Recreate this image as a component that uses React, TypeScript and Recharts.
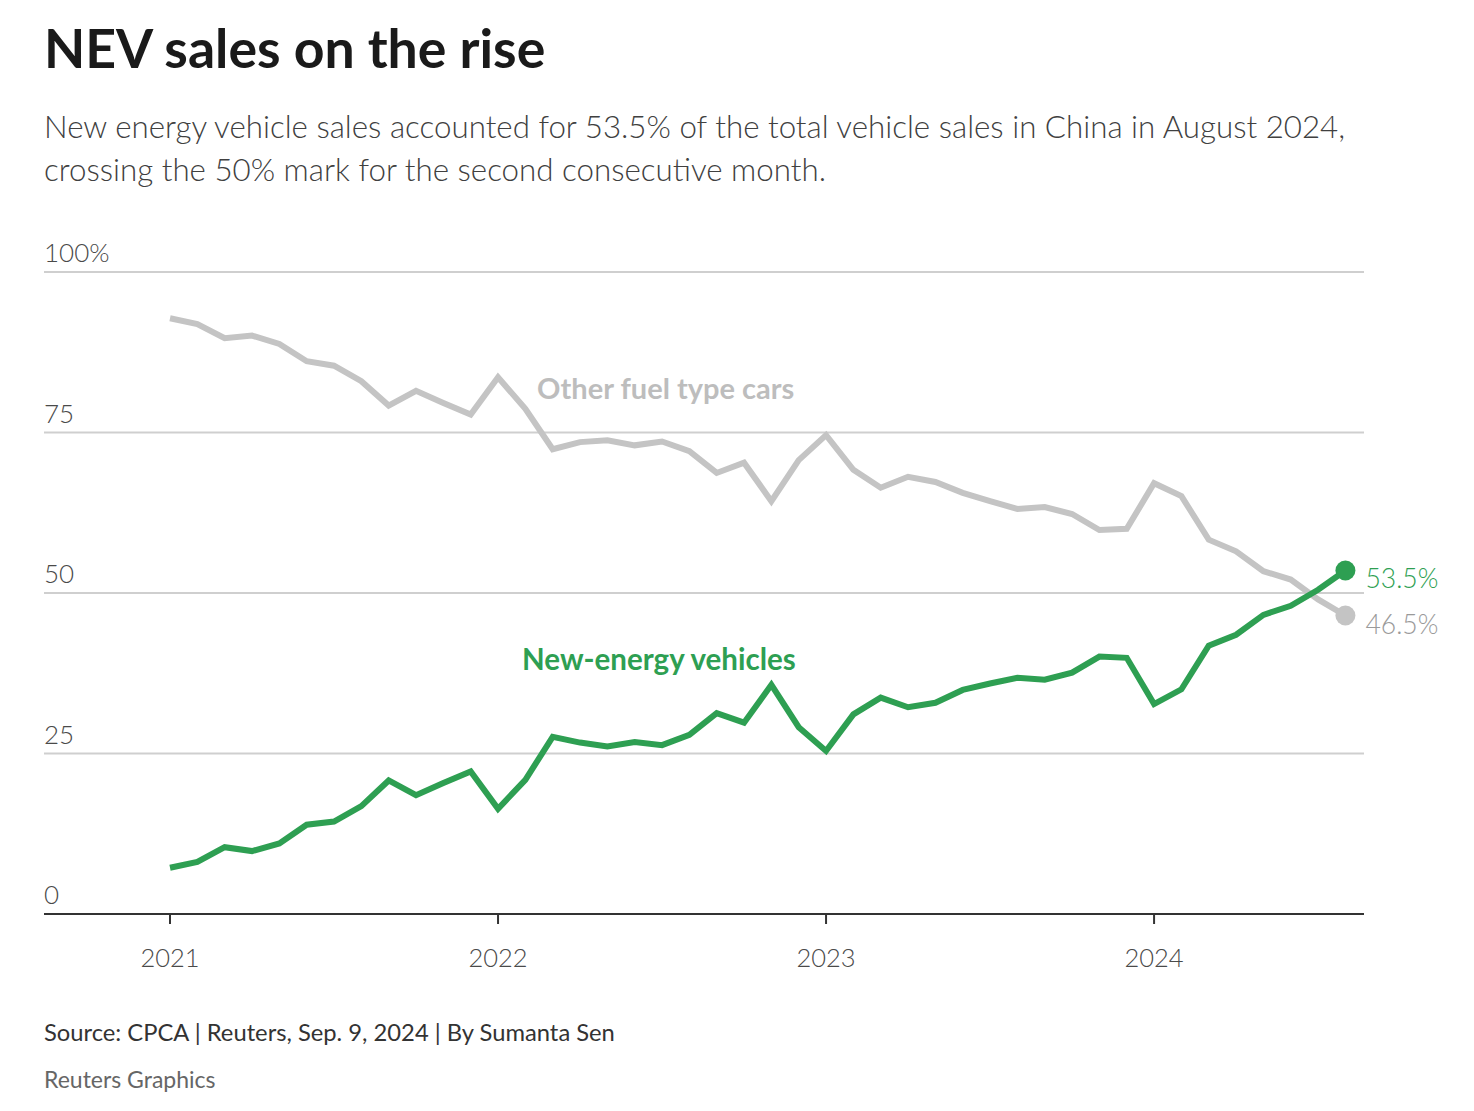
import React from "react";
import {
  LineChart,
  Line,
  XAxis,
  YAxis,
  CartesianGrid,
  ReferenceDot,
  LabelList,
} from "recharts";

// Monthly share of total vehicle sales in China (%), Jan 2021 – Aug 2024
const months = [
  "2021-01", "2021-02", "2021-03", "2021-04", "2021-05", "2021-06",
  "2021-07", "2021-08", "2021-09", "2021-10", "2021-11", "2021-12",
  "2022-01", "2022-02", "2022-03", "2022-04", "2022-05", "2022-06",
  "2022-07", "2022-08", "2022-09", "2022-10", "2022-11", "2022-12",
  "2023-01", "2023-02", "2023-03", "2023-04", "2023-05", "2023-06",
  "2023-07", "2023-08", "2023-09", "2023-10", "2023-11", "2023-12",
  "2024-01", "2024-02", "2024-03", "2024-04", "2024-05", "2024-06",
  "2024-07", "2024-08",
];

const nevShare = [
  7.2, 8.1, 10.4, 9.8, 11.0, 13.9, 14.4, 16.8, 20.8, 18.5, 20.4, 22.2,
  16.4, 20.9, 27.6, 26.7, 26.1, 26.8, 26.3, 27.9, 31.3, 29.8, 35.7, 29.1,
  25.4, 31.1, 33.7, 32.2, 32.9, 34.9, 35.9, 36.8, 36.5, 37.6, 40.1, 39.9,
  32.7, 35.0, 41.8, 43.5, 46.6, 48.0, 50.5, 53.5,
];

const otherShare = [
  92.8, 91.9, 89.7, 90.1, 88.8, 86.1, 85.4, 83.0, 79.2, 81.5, 79.6, 77.8,
  83.6, 78.7, 72.4, 73.5, 73.8, 73.0, 73.6, 72.1, 68.7, 70.3, 64.3, 70.7,
  74.6, 69.2, 66.4, 68.1, 67.3, 65.6, 64.3, 63.1, 63.4, 62.3, 59.8, 60.0,
  67.1, 65.1, 58.3, 56.5, 53.4, 52.1, 49.0, 46.5,
];

const yearTicks = [0, 12, 24, 36];
const yearLabels = ["2021", "2022", "2023", "2024"];
const yTicks = [0, 25, 50, 75, 100];
const yTickLabels = ["0", "25", "50", "75", "100%"];

const data = months.map((month, i) => ({
  month,
  idx: i,
  nev: nevShare[i],
  other: otherShare[i],
}));

const FONT = "Lato, 'Noto Sans', sans-serif";
const GREEN = "#2e9f52";
const GREY = "#c4c4c4";
const last = data.length - 1;

const YTick = ({ x, y, payload }: any) => (
  <text x={x} y={y - 10} fill="#4a4a4a" fontSize={26} fontWeight={300} fontFamily={FONT} textAnchor="start">
    {yTickLabels[yTicks.indexOf(payload.value)]}
  </text>
);

const XTick = ({ x, y, payload }: any) => (
  <text x={x} y={y + 43} fill="#4a4a4a" fontSize={25.5} fontWeight={300} fontFamily={FONT} textAnchor="middle">
    {yearLabels[yearTicks.indexOf(payload.value)]}
  </text>
);

const endDot = (color: string) => (props: any) =>
  props.index === last ? (
    <circle key={`dot-${props.index}`} cx={props.cx} cy={props.cy} r={10} fill={color} />
  ) : (
    <g key={`dot-${props.index}`} />
  );

const endLabel = (color: string, dy: number) => (props: any) =>
  props.index === last ? (
    <text
      key="end"
      x={props.x + 20}
      y={props.y + dy}
      fill={color}
      fontSize={26.5}
      fontWeight={300}
      fontFamily={FONT}
      textAnchor="start"
    >
      {`${props.value}%`}
    </text>
  ) : null;

const seriesName = (text: string, color: string, size: number) => (props: any) => (
  <text x={props.cx} y={props.cy} fill={color} fontSize={size} fontWeight={700} fontFamily={FONT}>
    {text}
  </text>
);

export default function App() {
  return (
    <div style={{ position: "absolute", left: 0, top: 0, width: 1474, height: 1111, background: "#fff", fontFamily: FONT }}>
      <div style={{ position: "absolute", left: 44, top: 21, fontSize: 53.6, lineHeight: "53px", fontWeight: 700, color: "#1a1a1a", whiteSpace: "nowrap" }}>
        NEV sales on the rise
      </div>
      <div style={{ position: "absolute", left: 44, top: 105, width: 1420, fontSize: 31.3, lineHeight: "43px", fontWeight: 300, color: "#404040", whiteSpace: "nowrap" }}>
        New energy vehicle sales accounted for 53.5% of the total vehicle sales in China in August 2024,
        <br />
        crossing the 50% mark for the second consecutive month.
      </div>

      <div style={{ position: "absolute", left: 0, top: 0 }}>
        <LineChart
          width={1474}
          height={1111}
          data={data}
          margin={{ top: 272, right: 110, bottom: 137, left: 43 }}
        >
          <CartesianGrid vertical={false} stroke="#cfcfcf" strokeWidth={2} />
          <XAxis
            dataKey="idx"
            type="number"
            domain={[-4.61, 43.68]}
            ticks={yearTicks}
            tick={<XTick />}
            tickSize={10}
            tickMargin={0}
            height={60}
            axisLine={{ stroke: "#333", strokeWidth: 2 }}
            tickLine={{ stroke: "#333", strokeWidth: 2 }}
          />
          <YAxis
            type="number"
            domain={[0, 100]}
            ticks={yTicks}
            interval={0}
            width={1}
            tick={<YTick />}
            tickSize={0}
            tickMargin={0}
            axisLine={false}
            tickLine={false}
          />
          <Line
            dataKey="other"
            type="linear"
            stroke={GREY}
            strokeWidth={6}
            dot={endDot(GREY)}
            activeDot={false}
            isAnimationActive={false}
          >
            <LabelList dataKey="other" content={endLabel("#9a9a9a", 19)} />
          </Line>
          <Line
            dataKey="nev"
            type="linear"
            stroke={GREEN}
            strokeWidth={6}
            dot={endDot(GREEN)}
            activeDot={false}
            isAnimationActive={false}
          >
            <LabelList dataKey="nev" content={endLabel(GREEN, 17)} />
          </Line>
          <ReferenceDot x={13.43} y={80.2} r={0} shape={seriesName("Other fuel type cars", "#bdbdbd", 29)} />
          <ReferenceDot x={12.88} y={38.0} r={0} shape={seriesName("New-energy vehicles", GREEN, 29.5)} />
        </LineChart>
      </div>

      <div style={{ position: "absolute", left: 44, top: 1020, fontSize: 23.75, lineHeight: "24px", color: "#333", whiteSpace: "nowrap" }}>
        Source: CPCA | Reuters, Sep. 9, 2024 | By Sumanta Sen
      </div>
      <div style={{ position: "absolute", left: 44, top: 1068, fontSize: 23, lineHeight: "23px", color: "#666", whiteSpace: "nowrap" }}>
        Reuters Graphics
      </div>
    </div>
  );
}
